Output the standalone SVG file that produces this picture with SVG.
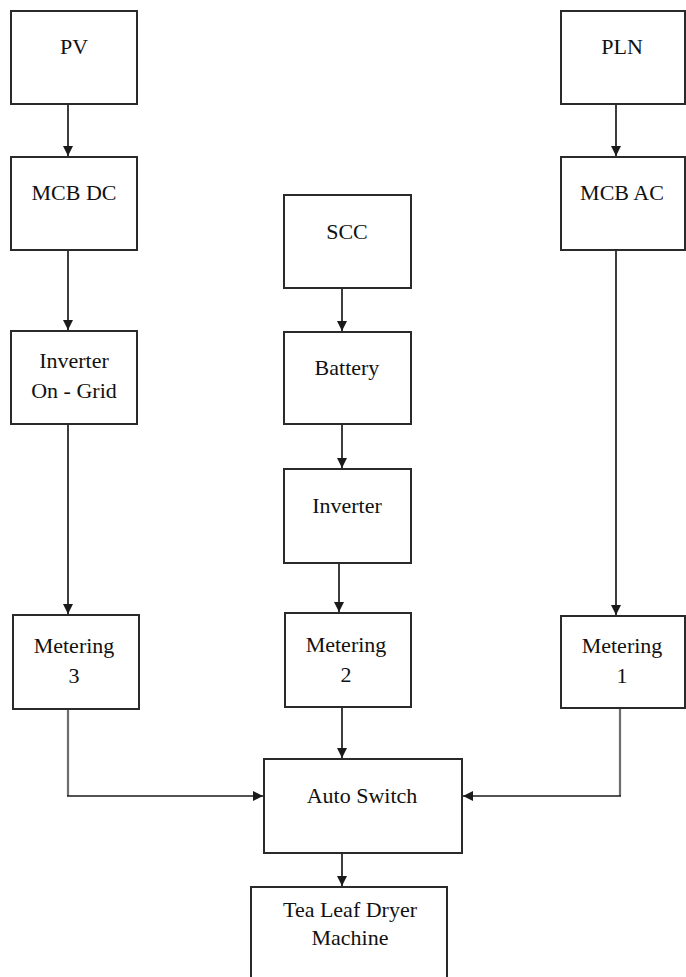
<svg xmlns="http://www.w3.org/2000/svg" width="686" height="977" viewBox="0 0 686 977">
  <style>
    .box { fill: #ffffff; stroke: #2a2a2a; stroke-width: 2; }
    .lbl { font-family: "Liberation Serif", "Times New Roman", serif; font-size: 22px; fill: #111111; text-anchor: middle; }
    .wire { fill: none; stroke: #1a1a1a; stroke-width: 1.7; }
    .wire-grey { fill: none; stroke: #6e6e6e; stroke-width: 2.2; }
  </style>
  <defs>
    <marker id="arrow" viewBox="0 0 10 10" refX="10" refY="5" markerWidth="10" markerHeight="10" markerUnits="userSpaceOnUse" orient="auto">
      <path d="M0,0 L10,5 L0,10 Z" fill="#1a1a1a"/>
    </marker>
  </defs>
  <rect width="686" height="977" fill="#ffffff"/>

  <g id="connectors">
    <line class="wire" x1="68" y1="104" x2="68" y2="156" marker-end="url(#arrow)"/>
    <line class="wire" x1="68" y1="250" x2="68" y2="330" marker-end="url(#arrow)"/>
    <line class="wire" x1="68" y1="424" x2="68" y2="614" marker-end="url(#arrow)"/>
    <line class="wire" x1="616" y1="104" x2="616" y2="156" marker-end="url(#arrow)"/>
    <line class="wire" x1="616" y1="250" x2="616" y2="615" marker-end="url(#arrow)"/>
    <line class="wire" x1="342" y1="288" x2="342" y2="331" marker-end="url(#arrow)"/>
    <line class="wire" x1="342" y1="424" x2="342" y2="468" marker-end="url(#arrow)"/>
    <line class="wire" x1="339" y1="563" x2="339" y2="612" marker-end="url(#arrow)"/>
    <line class="wire" x1="342" y1="707" x2="342" y2="758" marker-end="url(#arrow)"/>
    <line class="wire" x1="342" y1="853" x2="342" y2="886" marker-end="url(#arrow)"/>
    <!-- meter 3 to auto switch -->
    <line class="wire-grey" x1="68" y1="709" x2="68" y2="796"/>
    <line class="wire" x1="67" y1="796" x2="263" y2="796" marker-end="url(#arrow)"/>
    <!-- meter 1 to auto switch -->
    <line class="wire-grey" x1="620" y1="708" x2="620" y2="796"/>
    <line class="wire" x1="621" y1="796" x2="463" y2="796" marker-end="url(#arrow)"/>
  </g>

  <g id="pv">
    <rect class="box" x="11" y="11" width="126" height="93"/>
    <text class="lbl" x="74" y="54">PV</text>
  </g>
  <g id="mcb-dc">
    <rect class="box" x="11" y="157" width="126" height="93"/>
    <text class="lbl" x="74" y="200">MCB DC</text>
  </g>
  <g id="inverter-on-grid">
    <rect class="box" x="11" y="331" width="126" height="93"/>
    <text class="lbl" x="74" y="368">Inverter</text>
    <text class="lbl" x="74" y="398">On - Grid</text>
  </g>
  <g id="metering-3">
    <rect class="box" x="13" y="615" width="126" height="94"/>
    <text class="lbl" x="74" y="653">Metering</text>
    <text class="lbl" x="74" y="683">3</text>
  </g>

  <g id="pln">
    <rect class="box" x="561" y="11" width="124" height="93"/>
    <text class="lbl" x="622" y="54">PLN</text>
  </g>
  <g id="mcb-ac">
    <rect class="box" x="561" y="157" width="124" height="93"/>
    <text class="lbl" x="622" y="200">MCB AC</text>
  </g>
  <g id="metering-1">
    <rect class="box" x="561" y="616" width="124" height="92"/>
    <text class="lbl" x="622" y="653">Metering</text>
    <text class="lbl" x="622" y="683">1</text>
  </g>

  <g id="scc">
    <rect class="box" x="284" y="195" width="127" height="93"/>
    <text class="lbl" x="347" y="239">SCC</text>
  </g>
  <g id="battery">
    <rect class="box" x="284" y="332" width="127" height="92"/>
    <text class="lbl" x="347" y="375">Battery</text>
  </g>
  <g id="inverter">
    <rect class="box" x="284" y="469" width="127" height="94"/>
    <text class="lbl" x="347" y="513">Inverter</text>
  </g>
  <g id="metering-2">
    <rect class="box" x="285" y="613" width="126" height="94"/>
    <text class="lbl" x="346" y="652">Metering</text>
    <text class="lbl" x="346" y="682">2</text>
  </g>

  <g id="auto-switch">
    <rect class="box" x="264" y="759" width="198" height="94"/>
    <text class="lbl" x="362" y="803">Auto Switch</text>
  </g>
  <g id="tea-leaf-dryer">
    <rect class="box" x="251" y="887" width="196" height="100"/>
    <text class="lbl" x="350" y="917">Tea Leaf Dryer</text>
    <text class="lbl" x="350" y="945">Machine</text>
  </g>
</svg>
